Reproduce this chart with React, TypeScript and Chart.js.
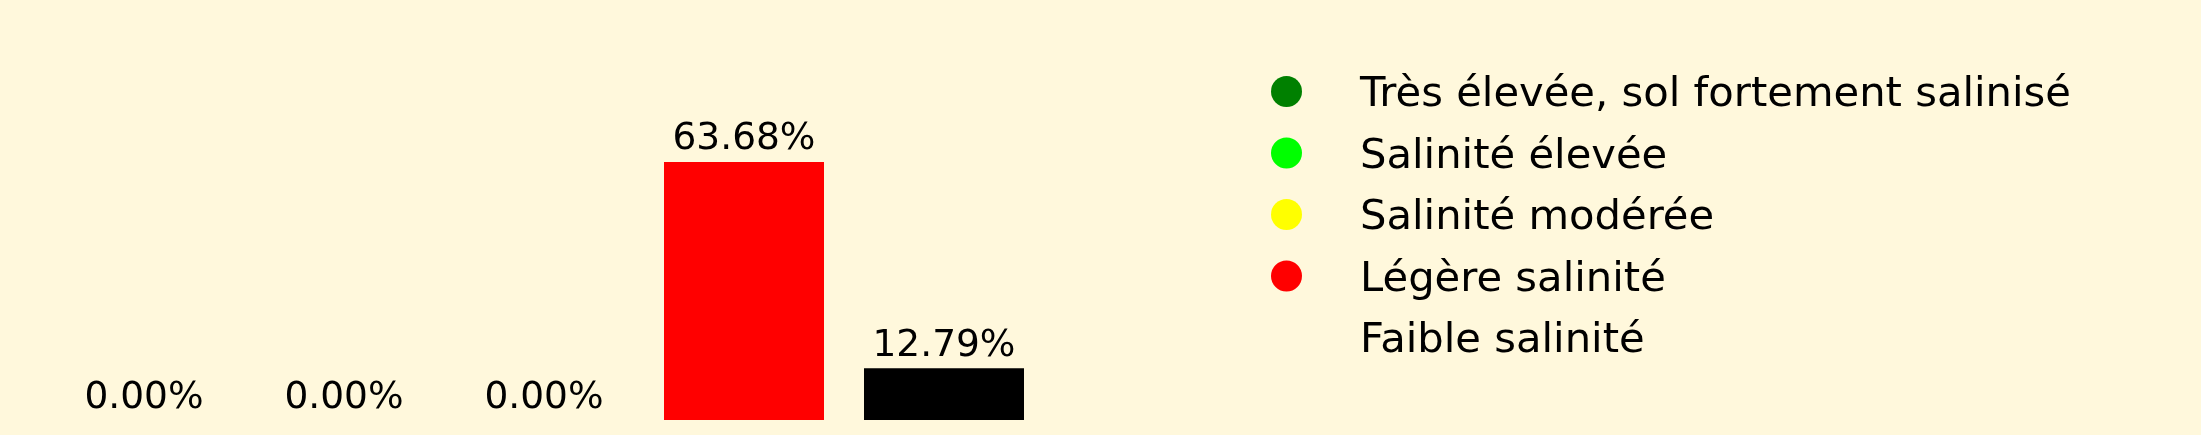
import React, { useEffect, useRef } from "react";
import { Chart, registerables, ChartConfiguration, Plugin } from "chart.js";

Chart.register(...registerables);

// classes de salinité
const categories = [
  "Très élevée, sol fortement salinisé",
  "Salinité élevée",
  "Salinité modérée",
  "Légère salinité",
  "Faible salinité",
];
const percentages = [0, 0, 0, 63.68, 12.79];
const barColors = ["#008000", "#00ff00", "#ffff00", "#ff0000", "#000000"];
// la dernière pastille de la légende n'est pas visible dans l'original
const legendColors = ["#008000", "#00ff00", "#ffff00", "#ff0000", "transparent"];

const BG = "#fff8dc";
const FONT = "'DejaVu Sans', sans-serif";

// valeur au-dessus de chaque barre
const valueLabels: Plugin<"bar"> = {
  id: "valueLabels",
  afterDatasetsDraw(chart) {
    const ctx = chart.ctx;
    const meta = chart.getDatasetMeta(0);
    ctx.save();
    ctx.font = `37.5px ${FONT}`;
    ctx.fillStyle = "#000";
    ctx.textAlign = "center";
    ctx.textBaseline = "alphabetic";
    meta.data.forEach((bar, i) => {
      ctx.fillText(`${percentages[i].toFixed(2)}%`, bar.x, bar.y - 12.5);
    });
    ctx.restore();
  },
};

// légende dessinée à la main à droite
const sideLegend: Plugin<"bar"> = {
  id: "sideLegend",
  afterDraw(chart) {
    const ctx = chart.ctx;
    ctx.save();
    ctx.font = `41.7px ${FONT}`;
    ctx.textAlign = "left";
    ctx.textBaseline = "alphabetic";
    categories.forEach((label, i) => {
      const cy = 91.5 + i * 61.5;
      if (legendColors[i] !== "transparent") {
        ctx.beginPath();
        ctx.arc(1286.5, cy, 15.5, 0, Math.PI * 2);
        ctx.fillStyle = legendColors[i];
        ctx.fill();
      }
      ctx.fillStyle = "#000";
      ctx.fillText(label, 1360, 106 + i * 61.5);
    });
    ctx.restore();
  },
};

export default function App() {
  const chartRef = useRef<HTMLCanvasElement | null>(null);

  useEffect(() => {
    document.body.style.margin = "0";
    if (!chartRef.current) return;

    const config: ChartConfiguration<"bar"> = {
      type: "bar",
      data: {
        labels: categories,
        datasets: [
          {
            data: percentages,
            backgroundColor: barColors,
            barPercentage: 0.8,
            categoryPercentage: 1,
          },
        ],
      },
      options: {
        animation: false,
        responsive: false,
        maintainAspectRatio: false,
        layout: {
          padding: { left: 44, right: 1157, top: 149, bottom: 15 },
        },
        plugins: {
          legend: { display: false },
          tooltip: { enabled: false },
        },
        scales: {
          x: { display: false, offset: true },
          y: { display: false, min: 0, max: 66.864 },
        },
      },
      plugins: [valueLabels, sideLegend],
    };

    const chart = new Chart(chartRef.current, config);
    return () => {
      chart.destroy();
    };
  }, []);

  return (
    <div style={{ width: 2201, height: 435, background: BG }}>
      <canvas ref={chartRef} width={2201} height={435} style={{ display: "block" }} />
    </div>
  );
}
